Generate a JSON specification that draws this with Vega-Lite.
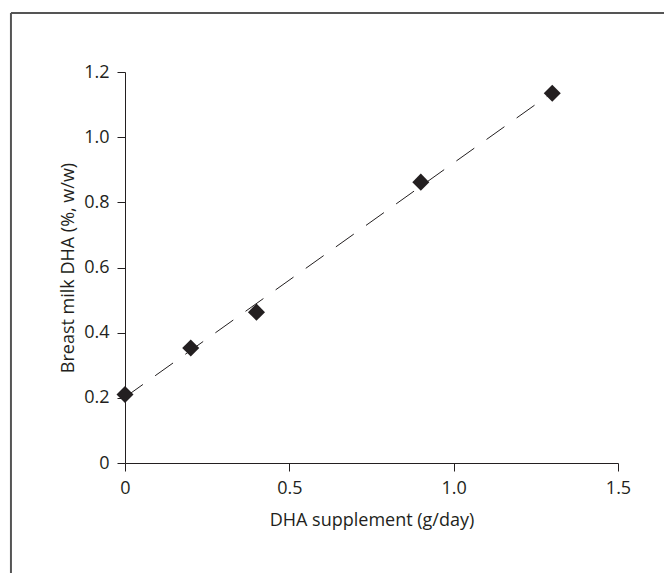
{
  "$schema": "https://vega.github.io/schema/vega-lite/v6.json",
  "width": 493,
  "height": 391,
  "autosize": {"type": "none"},
  "padding": {"left": 125, "top": 72, "right": 46, "bottom": 110},
  "background": "white",
  "config": {
    "view": {"stroke": null},
    "font": "Open Sans",
    "axis": {
      "grid": false,
      "domainColor": "#231f20",
      "domainWidth": 1,
      "tickColor": "#231f20",
      "tickSize": 8,
      "labelColor": "#231f20",
      "titleColor": "#231f20",
      "labelFont": "Open Sans",
      "titleFont": "Open Sans",
      "labelFontSize": 18,
      "titleFontSize": 18,
      "titleFontWeight": "normal",
      "labelPadding": 8,
      "labelFlush": false,
      "labelOverlap": false,
      "labelExpr": "datum.value === 0 ? '0' : format(datum.value, '.1f')"
    },
    "axisX": {"titlePadding": 14},
    "axisY": {"titlePadding": 6}
  },
  "data": {
    "values": [
      {"supplement": 0, "dha": 0.21},
      {"supplement": 0.2, "dha": 0.353},
      {"supplement": 0.4, "dha": 0.463},
      {"supplement": 0.9, "dha": 0.862},
      {"supplement": 1.3, "dha": 1.135}
    ]
  },
  "layer": [
    {
      "data": {"values": [{}]},
      "mark": {"type": "rule", "color": "#555555", "strokeWidth": 2},
      "encoding": {
        "x": {"datum": -0.347, "type": "quantitative", "scale": {"domain": [0, 1.5], "nice": false}, "title": "DHA supplement (g/day)", "axis": {"values": [0, 0.5, 1, 1.5]}},
        "x2": {"datum": 1.8},
        "y": {"datum": 1.381, "type": "quantitative", "scale": {"domain": [0, 1.2], "nice": false}, "title": "Breast milk DHA (%, w/w)", "axis": {"values": [0, 0.2, 0.4, 0.6, 0.8, 1.0, 1.2]}}
      }
    },
    {
      "data": {"values": [{}]},
      "mark": {"type": "rule", "color": "#555555", "strokeWidth": 2},
      "encoding": {
        "x": {"datum": -0.347, "type": "quantitative", "scale": {"domain": [0, 1.5], "nice": false}, "title": "DHA supplement (g/day)", "axis": {"values": [0, 0.5, 1, 1.5]}},
        "y": {"datum": 1.381, "type": "quantitative", "scale": {"domain": [0, 1.2], "nice": false}, "title": "Breast milk DHA (%, w/w)", "axis": {"values": [0, 0.2, 0.4, 0.6, 0.8, 1.0, 1.2]}},
        "y2": {"datum": -0.5}
      }
    },
    {
      "transform": [
        {"regression": "dha", "on": "supplement", "extent": [0, 1.3]}
      ],
      "mark": {"type": "line", "color": "#231f20", "strokeWidth": 1, "strokeDash": [22, 15]},
      "encoding": {
        "x": {"field": "supplement", "type": "quantitative", "scale": {"domain": [0, 1.5], "nice": false}, "title": "DHA supplement (g/day)", "axis": {"values": [0, 0.5, 1, 1.5]}},
        "y": {"field": "dha", "type": "quantitative", "scale": {"domain": [0, 1.2], "nice": false}, "title": "Breast milk DHA (%, w/w)", "axis": {"values": [0, 0.2, 0.4, 0.6, 0.8, 1.0, 1.2]}}
      }
    },
    {
      "mark": {"type": "point", "shape": "diamond", "filled": true, "size": 290, "color": "#231f20", "opacity": 1},
      "encoding": {
        "x": {"field": "supplement", "type": "quantitative", "scale": {"domain": [0, 1.5], "nice": false}, "title": "DHA supplement (g/day)", "axis": {"values": [0, 0.5, 1, 1.5]}},
        "y": {"field": "dha", "type": "quantitative", "scale": {"domain": [0, 1.2], "nice": false}, "title": "Breast milk DHA (%, w/w)", "axis": {"values": [0, 0.2, 0.4, 0.6, 0.8, 1.0, 1.2]}}
      }
    }
  ]
}
